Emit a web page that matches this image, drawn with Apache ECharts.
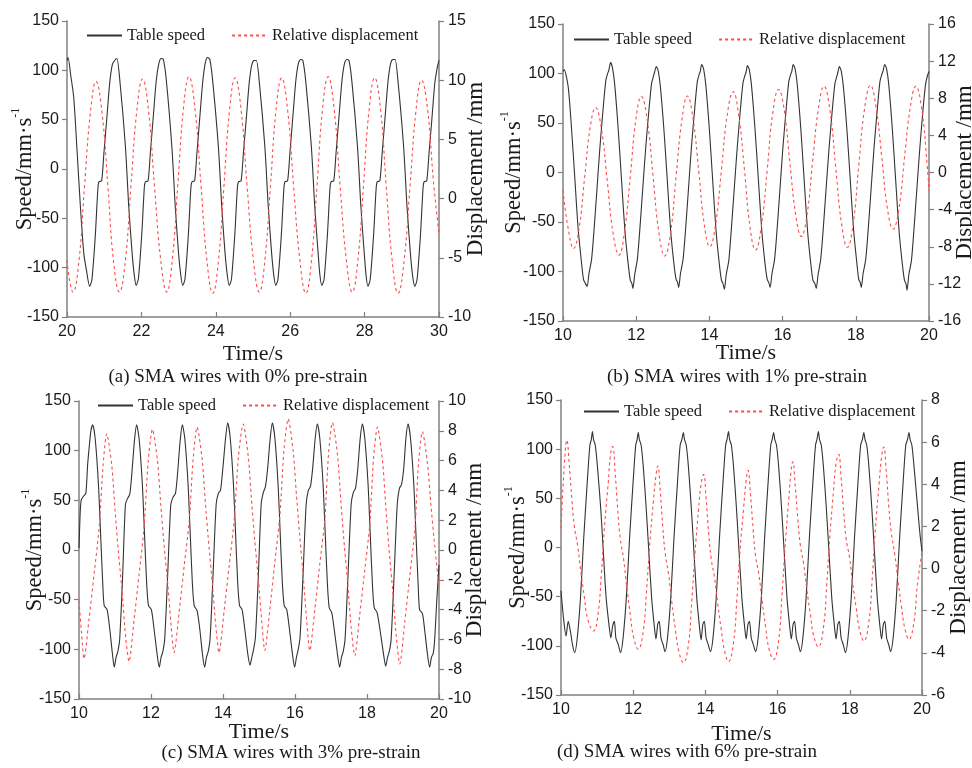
<!DOCTYPE html>
<html>
<head>
<meta charset="utf-8">
<script src="https://cdn.jsdelivr.net/npm/echarts@6/dist/echarts.min.js"></script>
<style>html,body{margin:0;padding:0;background:#fff;overflow:hidden}#c{width:972px;height:768px}</style>
</head>
<body>
<div id="c"></div>
<script>
// ---------- DATA ----------
var seriesNames = ['Table speed', 'Relative displacement'];
var captions = ['(a) SMA wires with 0% pre-strain', '(b) SMA wires with 1% pre-strain',
                '(c) SMA wires with 3% pre-strain', '(d) SMA wires with 6% pre-strain'];
var xName = 'Time/s';
var rightName = 'Displacement /mm';
var timeRanges = [[20, 30], [10, 20], [10, 20], [10, 20]];
var speedRange = [-150, 150];
var dispRanges = [[-10, 15, 5], [-16, 16, 4], [-10, 10, 2], [-6, 8, 2]];

// (a) 0% pre-strain
var speedA = [
[20.00,110],[20.03,113],[20.10,95],[20.18,73],[20.27,19],[20.36,-38],[20.45,-85],[20.52,-102],[20.61,-119],
[20.67,-112],[20.76,-68],[20.83,-20],[20.86,-13],[20.93,-12],[20.99,15],[21.08,56],[21.15,88],[21.22,106],[21.28,110],[21.34,112],[21.42,90],[21.57,23],[21.66,-38],[21.75,-85],[21.81,-108],
[21.86,-118],[21.92,-111],[22.01,-66],[22.08,-18],[22.11,-13],[22.18,-12],[22.24,16],[22.33,58],[22.40,90],[22.47,107],[22.53,112],[22.59,111],[22.67,90],[22.82,22],[22.91,-38],[23.00,-86],[23.06,-108],
[23.11,-118],[23.17,-112],[23.26,-68],[23.33,-19],[23.36,-13],[23.43,-12],[23.49,15],[23.58,57],[23.65,89],[23.72,108],[23.78,113],[23.84,111],[23.92,88],[24.07,22],[24.16,-38],[24.25,-86],[24.31,-108],
[24.36,-118],[24.42,-112],[24.51,-67],[24.58,-19],[24.61,-13],[24.68,-12],[24.74,15],[24.83,56],[24.90,88],[24.97,106],[25.03,110],[25.09,110],[25.17,88],[25.32,22],[25.41,-38],[25.50,-85],[25.56,-108],
[25.61,-118],[25.67,-112],[25.76,-68],[25.83,-20],[25.86,-13],[25.93,-12],[25.99,15],[26.08,57],[26.15,89],[26.22,107],[26.28,111],[26.34,110],[26.42,88],[26.57,22],[26.66,-38],[26.75,-85],[26.80,-108],
[26.85,-118],[26.91,-112],[27.00,-67],[27.07,-19],[27.10,-13],[27.17,-12],[27.23,15],[27.32,57],[27.39,89],[27.46,107],[27.52,111],[27.58,110],[27.66,88],[27.81,22],[27.90,-38],[27.99,-85],[28.04,-108],
[28.09,-119],[28.15,-112],[28.24,-68],[28.31,-20],[28.34,-13],[28.41,-12],[28.47,15],[28.56,57],[28.63,89],[28.70,107],[28.76,111],[28.82,111],[28.90,88],[29.05,22],[29.14,-38],[29.23,-85],[29.29,-108],
[29.35,-119],[29.41,-112],[29.50,-68],[29.57,-20],[29.60,-13],[29.67,-12],[29.73,15],[29.82,56],[29.89,88],[29.96,104],[30.00,110]
];
var dispA = [
[20.00,-5.2],[20.08,-7.1],[20.16,-7.9],[20.32,-5.3],[20.47,1.0],[20.63,7.3],[20.78,9.9],[20.94,7.3],[21.10,1.0],[21.25,-5.3],[21.41,-7.9],
[21.57,-5.2],[21.72,1.1],[21.88,7.5],[22.03,10.1],[22.19,7.5],[22.35,1.1],[22.52,-5.2],[22.68,-7.9],
[22.83,-5.2],[22.98,1.2],[23.13,7.6],[23.28,10.3],[23.44,7.6],[23.60,1.2],[23.76,-5.2],[23.92,-8.0],
[24.07,-5.3],[24.22,1.1],[24.37,7.5],[24.52,10.2],[24.68,7.5],[24.84,1.1],[25.01,-5.2],[25.17,-7.9],
[25.32,-5.2],[25.47,1.1],[25.62,7.5],[25.77,10.2],[25.93,7.5],[26.09,1.1],[26.26,-5.2],[26.42,-8.0],
[26.57,-5.3],[26.72,1.1],[26.87,7.6],[27.02,10.3],[27.18,7.6],[27.34,1.1],[27.51,-5.2],[27.67,-7.9],
[27.82,-5.2],[27.97,1.1],[28.12,7.5],[28.27,10.2],[28.43,7.5],[28.58,1.1],[28.74,-5.2],[28.90,-8.0],
[29.06,-5.3],[29.22,1.0],[29.38,7.4],[29.53,10.0],[29.69,7.6],[29.85,1.5],[30.00,-3.0]
];

// (b) 1% pre-strain
var speedB = [
[10.00,102],[10.03,104],[10.14,87],[10.23,46],[10.32,-4],[10.41,-55],[10.50,-89],[10.56,-108],[10.61,-112],[10.66,-115],
[10.71,-102],[10.78,-88],[10.84,-62],[10.92,-21],[11.01,26],[11.10,66],[11.17,93],[11.22,100],[11.25,103],[11.30,111],[11.35,106],[11.41,90],[11.51,43],[11.60,-8],[11.69,-58],[11.78,-92],[11.84,-109],[11.88,-112],[11.91,-117],
[11.96,-103],[12.03,-88],[12.09,-62],[12.17,-21],[12.26,25],[12.35,64],[12.42,90],[12.47,97],[12.50,101],[12.55,107],[12.60,103],[12.66,87],[12.76,42],[12.85,-8],[12.94,-58],[13.03,-92],[13.09,-108],[13.13,-111],[13.16,-116],
[13.21,-102],[13.28,-88],[13.34,-62],[13.42,-21],[13.51,26],[13.60,65],[13.67,92],[13.72,99],[13.75,102],[13.79,109],[13.84,105],[13.90,89],[14.00,43],[14.09,-8],[14.18,-58],[14.27,-92],[14.33,-109],[14.37,-112],[14.41,-118],
[14.46,-103],[14.53,-89],[14.59,-62],[14.67,-21],[14.76,25],[14.85,65],[14.92,91],[14.97,98],[15.00,101],[15.04,108],[15.09,104],[15.15,88],[15.25,42],[15.34,-8],[15.43,-58],[15.52,-92],[15.58,-108],[15.62,-111],[15.66,-116],
[15.71,-102],[15.78,-88],[15.84,-62],[15.92,-21],[16.01,26],[16.10,65],[16.17,92],[16.22,99],[16.25,102],[16.29,109],[16.34,105],[16.40,89],[16.50,43],[16.59,-8],[16.68,-58],[16.77,-92],[16.83,-109],[16.88,-112],[16.92,-117],
[16.97,-103],[17.04,-88],[17.10,-62],[17.18,-21],[17.27,25],[17.36,64],[17.43,90],[17.48,97],[17.51,101],[17.55,107],[17.60,103],[17.66,87],[17.76,42],[17.85,-8],[17.94,-58],[18.03,-92],[18.08,-108],[18.12,-111],[18.15,-116],
[18.20,-102],[18.27,-88],[18.33,-62],[18.41,-21],[18.50,26],[18.59,65],[18.66,92],[18.71,99],[18.74,102],[18.79,109],[18.84,105],[18.90,89],[19.00,43],[19.09,-8],[19.18,-58],[19.27,-92],[19.33,-109],[19.37,-112],[19.40,-119],
[19.45,-103],[19.52,-89],[19.58,-62],[19.66,-21],[19.75,25],[19.84,65],[19.91,90],[19.96,98],[20.00,102]
];
var dispB = [
[10.00,-1.9],[10.14,-6.0],[10.29,-8.2],[10.44,-6.0],[10.59,-0.6],[10.74,4.8],[10.89,7.0],[11.05,4.7],[11.21,-0.95],[11.37,-6.6],[11.53,-8.9],
[11.68,-6.4],[11.84,-0.35],[11.99,5.7],[12.14,8.2],[12.30,5.7],[12.46,-0.4],[12.62,-6.5],[12.78,-9.0],
[12.94,-6.5],[13.09,-0.4],[13.25,5.7],[13.40,8.25],[13.55,5.9],[13.71,0.1],[13.86,-5.6],[14.01,-8.0],
[14.17,-5.6],[14.33,0.35],[14.49,6.3],[14.65,8.7],[14.80,6.2],[14.96,0.2],[15.11,-5.9],[15.26,-8.35],
[15.42,-5.8],[15.58,0.3],[15.73,6.4],[15.89,8.95],[16.05,6.6],[16.20,1.0],[16.36,-4.6],[16.51,-6.9],
[16.67,-4.5],[16.82,1.2],[16.98,6.9],[17.13,9.3],[17.29,6.8],[17.45,0.6],[17.61,-5.5],[17.77,-8.05],
[17.93,-5.5],[18.08,0.7],[18.24,6.9],[18.40,9.4],[18.55,7.1],[18.71,1.65],[18.86,-3.8],[19.02,-6.1],
[19.18,-3.85],[19.33,1.6],[19.49,7.05],[19.64,9.3],[19.80,6.9],[19.95,0.8],[20.00,-2.0]
];

// (c) 3% pre-strain
var speedC = [
[10.00,2],[10.03,35],[10.06,50],[10.12,54],[10.19,57],[10.24,86],[10.29,106],[10.33,120],[10.38,126],
[10.45,112],[10.54,66],[10.60,16],[10.66,-34],[10.70,-56],[10.78,-60],[10.85,-78],[10.93,-105],[10.98,-118],[11.03,-108],[11.08,-102],[11.13,-90],[11.21,-28],[11.29,46],[11.35,52],[11.41,56],[11.47,78],[11.54,110],[11.60,126],
[11.67,112],[11.76,66],[11.82,16],[11.88,-34],[11.93,-56],[12.01,-60],[12.08,-78],[12.17,-105],[12.23,-118],[12.28,-108],[12.33,-102],[12.38,-90],[12.46,-28],[12.55,46],[12.61,53],[12.68,57],[12.74,78],[12.81,110],[12.87,126],
[12.94,112],[13.03,66],[13.09,16],[13.15,-34],[13.20,-56],[13.28,-61],[13.35,-78],[13.43,-105],[13.49,-118],[13.54,-108],[13.59,-102],[13.64,-90],[13.72,-28],[13.81,46],[13.87,57],[13.93,60],[13.99,80],[14.07,112],[14.13,128],
[14.20,113],[14.29,66],[14.35,16],[14.41,-34],[14.46,-56],[14.53,-60],[14.60,-78],[14.69,-105],[14.75,-116],[14.80,-108],[14.85,-100],[14.90,-88],[14.98,-28],[15.06,46],[15.12,58],[15.18,64],[15.24,82],[15.31,112],[15.37,128],
[15.44,113],[15.53,66],[15.59,16],[15.65,-34],[15.70,-56],[15.77,-60],[15.84,-78],[15.93,-105],[15.99,-118],[16.04,-108],[16.09,-100],[16.14,-88],[16.22,-28],[16.31,46],[16.37,60],[16.43,64],[16.49,82],[16.56,112],[16.62,127],
[16.69,112],[16.78,66],[16.84,16],[16.90,-34],[16.95,-58],[17.02,-63],[17.09,-80],[17.18,-105],[17.24,-118],[17.29,-108],[17.34,-102],[17.39,-90],[17.47,-28],[17.56,46],[17.62,58],[17.68,62],[17.74,80],[17.81,112],[17.87,127],
[17.94,112],[18.03,66],[18.09,16],[18.15,-34],[18.20,-58],[18.28,-63],[18.36,-80],[18.46,-105],[18.52,-117],[18.57,-108],[18.62,-102],[18.67,-90],[18.75,-28],[18.84,46],[18.90,62],[18.96,66],[19.02,82],[19.08,112],[19.14,127],
[19.21,112],[19.30,66],[19.36,16],[19.42,-34],[19.46,-60],[19.54,-64],[19.60,-80],[19.68,-105],[19.74,-118],[19.79,-108],[19.84,-104],[19.88,-90],[19.94,-50],[20.00,-15]
];
var dispC = [
[10.00,-3.4],[10.07,-5.6],[10.14,-7.3],[10.28,-4.6],[10.42,-1.6],[10.56,1.5],[10.67,5.7],[10.77,7.8],[10.91,5.7],[11.00,2.7],[11.09,0.0],[11.20,-2.9],[11.29,-5.7],[11.39,-7.5],
[11.53,-4.7],[11.67,-1.6],[11.81,1.6],[11.92,5.9],[12.04,8.1],[12.18,6.0],[12.27,3.1],[12.36,0.4],[12.47,-2.4],[12.56,-5.1],[12.64,-6.9],
[12.78,-4.2],[12.92,-1.1],[13.06,1.9],[13.17,6.1],[13.28,8.25],[13.42,6.1],[13.51,3.2],[13.60,0.5],[13.71,-2.4],[13.80,-5.1],[13.89,-6.9],
[14.03,-4.1],[14.17,-1.1],[14.31,2.0],[14.43,6.3],[14.56,8.45],[14.70,6.3],[14.79,3.4],[14.88,0.7],[14.99,-2.2],[15.08,-4.9],[15.16,-6.75],
[15.30,-4.0],[15.44,-0.8],[15.58,2.3],[15.69,6.6],[15.81,8.8],[15.95,6.6],[16.04,3.7],[16.13,1.0],[16.24,-2.1],[16.33,-4.9],[16.41,-6.75],
[16.55,-4.0],[16.69,-0.9],[16.83,2.1],[16.93,6.4],[17.04,8.55],[17.18,6.4],[17.27,3.4],[17.36,0.6],[17.47,-2.4],[17.56,-5.2],[17.66,-7.1],
[17.80,-4.3],[17.94,-1.3],[18.08,1.8],[18.18,6.1],[18.29,8.25],[18.43,6.0],[18.52,3.0],[18.61,0.1],[18.72,-2.9],[18.81,-5.7],[18.91,-7.65],
[19.05,-4.8],[19.19,-1.7],[19.33,1.4],[19.43,5.8],[19.54,7.95],[19.68,5.8],[19.78,2.9],[19.88,0.3],[20.00,-2.5]
];

// (d) 6% pre-strain
var speedD = [
[10.00,-44],[10.07,-72],[10.14,-90],[10.20,-75],[10.26,-85],[10.32,-99],[10.38,-107],
[10.45,-92],[10.54,-51],[10.63,10],[10.73,68],[10.80,104],[10.84,110],[10.87,118],
[10.90,110],[10.95,104],[11.01,82],[11.10,40],[11.15,10],[11.25,-51],[11.34,-82],[11.38,-92],[11.43,-80],[11.48,-75],[11.52,-92],[11.59,-99],[11.65,-107],
[11.72,-92],[11.81,-51],[11.90,10],[12.00,68],[12.07,104],[12.11,110],[12.14,117],
[12.17,110],[12.22,104],[12.28,82],[12.36,40],[12.41,10],[12.51,-51],[12.59,-82],[12.63,-93],[12.68,-78],[12.72,-75],[12.77,-92],[12.83,-99],[12.88,-106],
[12.95,-92],[13.04,-51],[13.13,10],[13.23,68],[13.30,104],[13.35,110],[13.39,117],
[13.42,110],[13.47,104],[13.53,82],[13.61,40],[13.66,10],[13.76,-51],[13.84,-82],[13.88,-94],[13.93,-78],[13.97,-75],[14.02,-92],[14.08,-99],[14.14,-106],
[14.21,-92],[14.30,-51],[14.39,10],[14.49,68],[14.56,104],[14.60,110],[14.64,118],
[14.67,110],[14.72,104],[14.78,82],[14.86,40],[14.91,10],[15.01,-51],[15.09,-82],[15.13,-93],[15.18,-78],[15.22,-75],[15.27,-92],[15.33,-99],[15.39,-106],
[15.46,-92],[15.55,-51],[15.64,10],[15.74,68],[15.81,104],[15.85,110],[15.89,117],
[15.92,110],[15.97,104],[16.03,82],[16.11,40],[16.16,10],[16.26,-51],[16.34,-82],[16.38,-93],[16.43,-78],[16.47,-75],[16.52,-92],[16.58,-99],[16.63,-106],
[16.70,-92],[16.79,-51],[16.88,10],[16.98,68],[17.05,104],[17.09,110],[17.13,118],
[17.16,110],[17.21,104],[17.27,82],[17.35,40],[17.40,10],[17.50,-51],[17.58,-82],[17.62,-93],[17.67,-78],[17.71,-75],[17.76,-92],[17.82,-99],[17.88,-107],
[17.95,-92],[18.04,-51],[18.13,10],[18.23,68],[18.30,104],[18.35,110],[18.39,117],
[18.42,110],[18.47,104],[18.53,82],[18.61,40],[18.66,10],[18.76,-51],[18.84,-82],[18.88,-93],[18.93,-78],[18.97,-75],[19.02,-92],[19.08,-99],[19.13,-106],
[19.20,-92],[19.29,-51],[19.38,10],[19.48,68],[19.55,104],[19.60,110],[19.64,117],
[19.67,110],[19.72,104],[19.78,82],[19.88,40],[19.94,15],[20.00,-4]
];
var dispD = [
[10.00,1.9],[10.06,4.0],[10.12,5.6],[10.16,6.1],
[10.23,4.9],[10.30,3.3],[10.37,2.0],[10.46,1.1],[10.55,-0.15],[10.65,-1.4],[10.74,-2.4],[10.90,-2.96],
[11.03,-2.1],[11.12,-0.2],[11.21,2.1],[11.31,4.1],[11.37,5.4],[11.43,5.8],
[11.50,4.55],[11.57,2.8],[11.64,1.45],[11.73,0.5],[11.82,-0.85],[11.92,-2.2],[12.01,-3.25],[12.14,-3.83],
[12.28,-2.95],[12.37,-1.05],[12.46,1.2],[12.56,3.2],[12.63,4.4],[12.68,4.87],
[12.75,3.65],[12.82,1.95],[12.89,0.67],[12.98,-0.27],[13.07,-1.6],[13.17,-2.9],[13.26,-3.9],[13.39,-4.47],
[13.53,-3.6],[13.62,-1.6],[13.71,0.7],[13.81,2.8],[13.88,4.0],[13.95,4.47],
[14.02,3.3],[14.09,1.7],[14.16,0.47],[14.25,-0.4],[14.34,-1.65],[14.44,-2.9],[14.53,-3.9],[14.64,-4.42],
[14.78,-3.5],[14.87,-1.5],[14.96,0.85],[15.06,2.9],[15.13,4.2],[15.18,4.66],
[15.25,3.5],[15.32,1.9],[15.39,0.6],[15.48,-0.27],[15.57,-1.5],[15.67,-2.8],[15.76,-3.8],[15.89,-4.31],
[16.03,-3.4],[16.12,-1.3],[16.21,1.1],[16.31,3.3],[16.37,4.6],[16.42,5.07],
[16.49,3.9],[16.56,2.35],[16.63,1.1],[16.72,0.24],[16.81,-1.0],[16.91,-2.2],[17.00,-3.2],[17.13,-3.72],
[17.27,-2.8],[17.36,-0.8],[17.45,1.6],[17.55,3.7],[17.62,5.0],[17.69,5.42],
[17.76,4.3],[17.83,2.7],[17.90,1.4],[17.99,0.55],[18.08,-0.7],[18.18,-1.9],[18.27,-2.9],[18.39,-3.44],
[18.53,-2.5],[18.62,-0.5],[18.71,1.9],[18.81,4.0],[18.88,5.3],[18.94,5.77],
[19.01,4.6],[19.08,2.95],[19.15,1.7],[19.24,0.75],[19.33,-0.5],[19.43,-1.8],[19.52,-2.8],[19.64,-3.36],
[19.78,-2.5],[19.87,-0.8],[20.00,0.8]
];

var speedData = [speedA, speedB, speedC, speedD];
var dispData = [dispA, dispB, dispC, dispD];

// ---------- LAYOUT / STYLE ----------
var SERIF = 'Liberation Serif';
var SANS = 'Liberation Sans';
var TXT = '#1a1a1a';
var AX = '#808080';
var panels = [
  {grid:{left:67, top:21, width:372, height:296}, nameGapL:31, nameGapR:25, nameGapX:26, legend:{left:86, top:27}, cap:[238,377]},
  {grid:{left:563, top:24, width:366, height:297}, nameGapL:38, nameGapR:24, nameGapX:21, legend:{left:573, top:31}, cap:[737,377]},
  {grid:{left:79, top:401, width:360, height:298}, nameGapL:33, nameGapR:24, nameGapX:22, legend:{left:97, top:397}, cap:[291,753]},
  {grid:{left:561, top:400, width:361, height:295}, nameGapL:32, nameGapR:25, nameGapX:28, legend:{left:583, top:403}, cap:[687,752]}
];

var grids = [], xAxes = [], yAxes = [], series = [], legends = [], graphics = [];
panels.forEach(function (p, i) {
  var g = p.grid;
  grids.push({left: g.left, top: g.top, width: g.width, height: g.height,
              containLabel: false, outerBoundsMode: 'none'});
  xAxes.push({
    type: 'value', gridIndex: i, min: timeRanges[i][0], max: timeRanges[i][1], interval: 2,
    name: xName, nameLocation: 'middle', nameGap: p.nameGapX, nameMoveOverlap: false,
    nameTextStyle: {fontFamily: SERIF, fontSize: 22, color: TXT},
    axisLine: {onZero: false, lineStyle: {color: AX, width: 1.5}},
    axisTick: {inside: true, length: 5, lineStyle: {color: AX, width: 1.2}},
    axisLabel: {fontFamily: SANS, fontSize: 16, color: TXT, margin: 7},
    splitLine: {show: false}
  });
  yAxes.push({
    type: 'value', gridIndex: i, position: 'left', min: speedRange[0], max: speedRange[1], interval: 50,
    name: '{a|Speed/mm·s}{b|-1}', nameLocation: 'middle', nameGap: p.nameGapL - 1, nameRotate: 90, nameMoveOverlap: false,
    nameTextStyle: {fontFamily: SERIF, fontSize: 22, color: TXT,
      rich: {a: {fontFamily: SERIF, fontSize: 22.5, color: TXT, lineHeight: 27, verticalAlign: 'bottom'},
             b: {fontFamily: SERIF, fontSize: 12, color: TXT, lineHeight: 27, verticalAlign: 'top'}}},
    axisLine: {show: true, onZero: false, lineStyle: {color: AX, width: 1.5}},
    axisTick: {show: true, length: 5, lineStyle: {color: AX, width: 1.2}},
    axisLabel: {fontFamily: SANS, fontSize: 16, color: TXT, margin: 8},
    splitLine: {show: false}
  });
  yAxes.push({
    type: 'value', gridIndex: i, position: 'right', min: dispRanges[i][0], max: dispRanges[i][1], interval: dispRanges[i][2],
    name: rightName, nameLocation: 'middle', nameGap: p.nameGapR, nameRotate: 90, nameMoveOverlap: false,
    nameTextStyle: {fontFamily: SERIF, fontSize: 23, color: TXT},
    axisLine: {show: true, onZero: false, lineStyle: {color: AX, width: 1.5}},
    axisTick: {show: true, length: 5, lineStyle: {color: AX, width: 1.2}},
    axisLabel: {fontFamily: SANS, fontSize: 16, color: TXT, margin: 9},
    splitLine: {show: false}
  });
  series.push({
    type: 'line', name: seriesNames[0], xAxisIndex: i, yAxisIndex: 2 * i, data: speedData[i],
    symbol: 'none', smooth: 0.25, z: 2,
    lineStyle: {color: '#333333', width: 1.1}, itemStyle: {color: '#333333'}
  });
  series.push({
    type: 'line', name: seriesNames[1], xAxisIndex: i, yAxisIndex: 2 * i + 1, data: dispData[i],
    symbol: 'none', smooth: (i === 2 ? 0.25 : 0.45), z: 3,
    lineStyle: {color: '#ff4a4a', width: 1.1, type: [3, 3]}, itemStyle: {color: '#ff4a4a'}
  });
  legends.push({
    left: p.legend.left, top: p.legend.top, orient: 'horizontal', padding: 0,
    itemWidth: 35, itemHeight: 12, itemGap: 26, selectedMode: false,
    data: seriesNames,
    itemStyle: {opacity: 0, borderWidth: 0},
    textStyle: {fontFamily: SERIF, fontSize: 16.5, color: TXT}
  });
  graphics.push({
    type: 'text', x: p.cap[0], y: p.cap[1],
    style: {text: captions[i], fontFamily: SERIF, fontSize: 19, fill: TXT, textAlign: 'center', textVerticalAlign: 'middle'}
  });
});

var chart = echarts.init(document.getElementById('c'), null, {renderer: 'canvas'});
chart.setOption({
  backgroundColor: '#ffffff',
  animation: false,
  grid: grids, xAxis: xAxes, yAxis: yAxes, series: series, legend: legends,
  graphic: graphics
});
</script>
</body>
</html>
